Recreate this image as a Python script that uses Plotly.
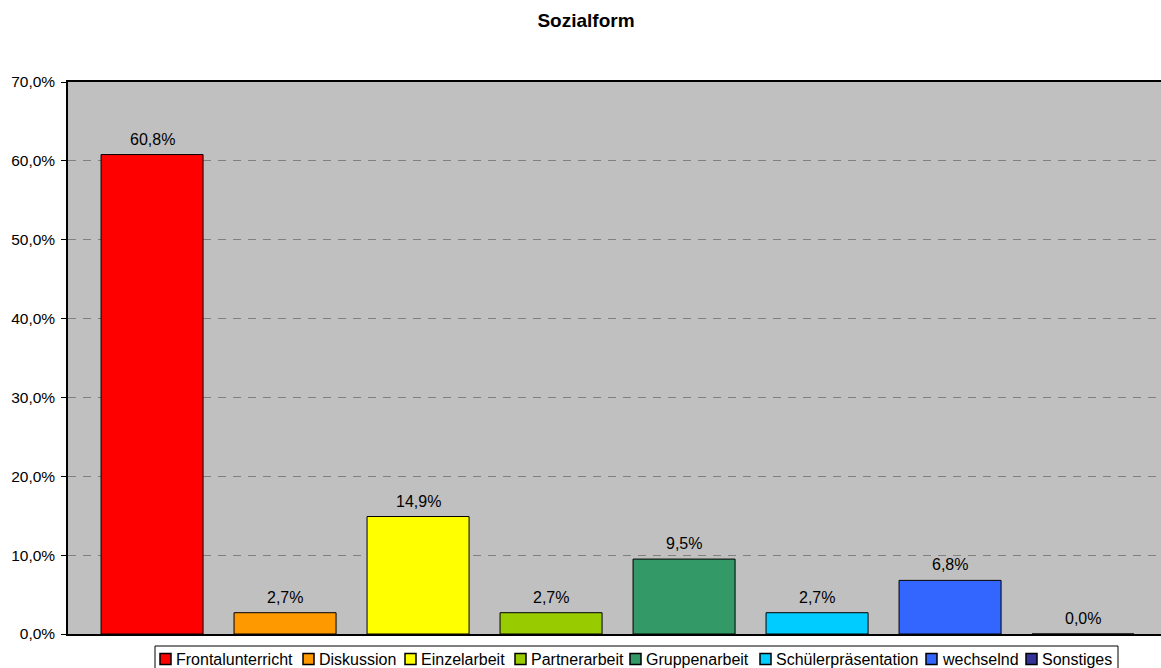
import plotly.graph_objects as go

categories = ["Frontalunterricht", "Diskussion", "Einzelarbeit", "Partnerarbeit",
              "Gruppenarbeit", "Schülerpräsentation", "wechselnd", "Sonstiges"]
values = [60.8, 2.7, 14.9, 2.7, 9.5, 2.7, 6.8, 0.0]
colors = ["#FF0000", "#FF9900", "#FFFF00", "#99CC00",
          "#339966", "#00CCFF", "#3366FF", "#333399"]

FONT = "Liberation Sans, Arial, sans-serif"
W, H = 1161, 668
ML, MR, MT, MB = 68, 0, 82, 34
PW, PH = W - ML - MR, H - MT - MB

# legend layout in pixels (left edge of each swatch), box extents
legend_swatch_x = [160, 303, 405, 515, 630, 760, 926, 1026]
legend_box = (155, 646, 1118, 672)
legend_row_y = 659


def px_x(p):
    return (p - ML) / PW


def px_y(p):
    return (H - MB - p) / PH


fig = go.Figure()
for i, (cat, val, col) in enumerate(zip(categories, values, colors)):
    fig.add_trace(go.Bar(
        x=[i], y=[val], name=cat, width=0.767,
        marker=dict(color=col, line=dict(color="black", width=1)),
        hovertemplate=cat + ": %{y:.1f}%<extra></extra>",
    ))

annotations = []
# value labels above the bars
for i, val in enumerate(values):
    annotations.append(dict(
        x=i, y=val, xref="x", yref="y", yanchor="bottom", yshift=5,
        text=f"{val:.1f}%".replace(".", ","), showarrow=False,
        font=dict(family=FONT, size=16, color="black"),
    ))

shapes = []
# legend frame
x0, y0, x1, y1 = legend_box
shapes.append(dict(type="rect", xref="paper", yref="paper",
                   x0=px_x(x0), x1=px_x(x1), y0=px_y(y0), y1=px_y(y1),
                   line=dict(color="black", width=1), fillcolor="white", layer="above"))
for sx, cat, col in zip(legend_swatch_x, categories, colors):
    shapes.append(dict(type="rect", xref="paper", yref="paper",
                       x0=px_x(sx), x1=px_x(sx + 11),
                       y0=px_y(legend_row_y + 5.5), y1=px_y(legend_row_y - 5.5),
                       line=dict(color="black", width=1.5), fillcolor=col, layer="above"))
    annotations.append(dict(
        x=px_x(sx + 14), y=px_y(legend_row_y), xref="paper", yref="paper",
        xanchor="left", yanchor="middle", text=cat, showarrow=False,
        font=dict(family=FONT, size=16, color="black"),
    ))

fig.update_layout(
    width=W, height=H,
    margin=dict(l=ML, r=MR, t=MT, b=MB),
    paper_bgcolor="white", plot_bgcolor="#C0C0C0",
    separators=",.",
    barmode="overlay",
    showlegend=False,
    font=dict(family=FONT, size=16, color="black"),
    title=dict(text="<b>Sozialform</b>", x=586 / W, xref="container", xanchor="center",
               y=1 - 20 / H, yref="container", yanchor="middle",
               font=dict(family=FONT, size=19, color="black")),
    annotations=annotations,
    shapes=shapes,
)

fig.update_xaxes(range=[-0.632, 7.586], showticklabels=False, showgrid=False,
                 zeroline=False, showline=True, linecolor="black", linewidth=2,
                 mirror=True, ticks="")
fig.update_yaxes(range=[0, 70], dtick=10, tickformat=".1f", ticksuffix="%",
                 showgrid=True, gridcolor="#808080", griddash="8px,7px", gridwidth=1,
                 zeroline=False, showline=True, linecolor="black", linewidth=1.5,
                 ticks="outside", ticklen=5, tickcolor="black", ticklabelstandoff=3,
                 tickfont=dict(family=FONT, size=15.5, color="black"))

fig.write_html("out.html")
